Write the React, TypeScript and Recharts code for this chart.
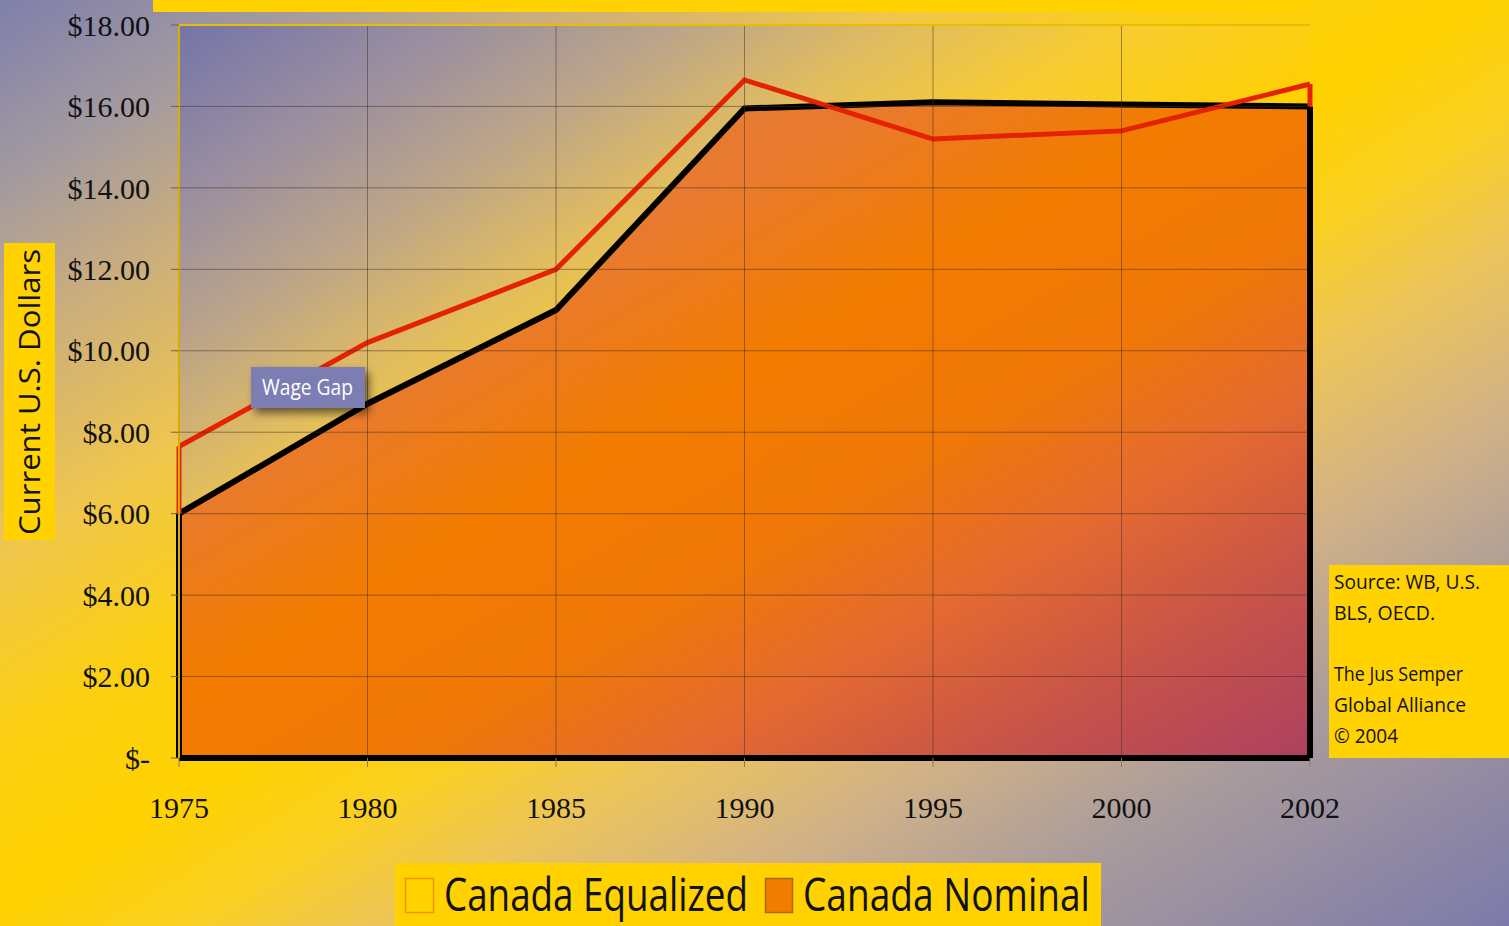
import React from "react"
import { AreaChart, Area, XAxis, YAxis, CartesianGrid, ReferenceLine } from "recharts"

const YEARS = ["1975", "1980", "1985", "1990", "1995", "2000", "2002"]
const CANADA_EQUALIZED = [7.65, 10.2, 12.0, 16.65, 15.2, 15.4, 16.55]
const CANADA_NOMINAL = [6.0, 8.7, 11.0, 15.95, 16.1, 16.05, 16.0]
const Y_TICKS = [0, 2, 4, 6, 8, 10, 12, 14, 16, 18]
const LEGEND_LABELS = ["Canada Equalized", "Canada Nominal"]
const SOURCE_LINES = ["Source: WB, U.S.", "BLS, OECD.", "", "The Jus Semper", "Global Alliance", "© 2004"]
const SOURCE_WIDTHS = [146, 101, 0, 129, 132, 64]

const W = 1509
const H = 926
const GRID = "rgba(70, 45, 35, 0.5)"
const SANS = "'Open Sans', 'Noto Sans', sans-serif"
const LEGEND_SQUEEZE = 0.77

const chartData = YEARS.map((year, i) => ({
  year,
  equalized: CANADA_EQUALIZED[i],
  nominal: CANADA_NOMINAL[i],
}))

const first = YEARS[0]
const last = YEARS[YEARS.length - 1]
const lastIdx = YEARS.length - 1

function formatDollar(v: number) {
  return v === 0 ? "$-" : `$${v.toFixed(2)}`
}

// condensed-looking legend label: squeeze horizontally, then fit to width
function LegendText({ x, y, width, children }: any) {
  return (
    <text
      x={0}
      y={0}
      transform={`translate(${x} ${y}) scale(${LEGEND_SQUEEZE} 1)`}
      fontFamily={SANS}
      fontSize={46}
      fill="#111"
      textLength={width / LEGEND_SQUEEZE}
      lengthAdjust="spacingAndGlyphs"
    >
      {children}
    </text>
  )
}

// everything drawn around the plot: boxes, labels, legend
function Overlay() {
  return (
    <svg
      width={W}
      height={H}
      style={{ position: "absolute", left: 0, top: 0, pointerEvents: "none" }}
    >
      <defs>
        <filter id="boxShadow" x="-20%" y="-30%" width="150%" height="180%">
          <feDropShadow dx="4" dy="5" stdDeviation="4" floodColor="#000" floodOpacity="0.55" />
        </filter>
      </defs>

      {/* cut-off title bar */}
      <rect x={153} y={0} width={1157} height={12} fill="#ffd200" />

      {/* y axis title */}
      <rect x={4} y={243} width={51} height={297} fill="#ffd200" />
      <text
        x={0}
        y={0}
        transform="translate(40 392) rotate(-90)"
        textAnchor="middle"
        fontFamily={SANS}
        fontSize={29}
        fill="#111"
        textLength={286}
        lengthAdjust="spacingAndGlyphs"
      >
        Current U.S. Dollars
      </text>

      {/* wage gap callout */}
      <rect x={251} y={367} width={114} height={41} fill="#7b7db2" filter="url(#boxShadow)" />
      <text
        x={262}
        y={395}
        fontFamily={SANS}
        fontSize={21}
        fill="#fff"
        textLength={91}
        lengthAdjust="spacingAndGlyphs"
      >
        Wage Gap
      </text>

      {/* source box */}
      <rect x={1329} y={565} width={180} height={193} fill="#ffd200" />
      {SOURCE_LINES.map((line, i) =>
        line ? (
          <text
            key={i}
            x={1334}
            y={589 + i * 30.8}
            fontFamily={SANS}
            fontSize={20}
            fill="#111"
            textLength={SOURCE_WIDTHS[i]}
            lengthAdjust="spacingAndGlyphs"
          >
            {line}
          </text>
        ) : null
      )}

      {/* legend */}
      <rect x={395} y={863} width={706} height={63} fill="#ffd200" />
      <rect x={405.5} y={878.5} width={28} height={34} fill="#ffd200" stroke="#f29400" strokeWidth={1.5} />
      <LegendText x={444} y={911} width={304}>
        {LEGEND_LABELS[0]}
      </LegendText>
      <rect x={765.5} y={878.5} width={27} height={34} fill="#f07c00" stroke="#a86a10" strokeWidth={1.5} />
      <LegendText x={803} y={911} width={287}>
        {LEGEND_LABELS[1]}
      </LegendText>
    </svg>
  )
}

export default function App() {
  return (
    <div
      style={{
        position: "absolute",
        left: 0,
        top: 0,
        width: W,
        height: H,
        overflow: "hidden",
        background:
          "linear-gradient(to bottom right, #7f7fab 0%, #a39aa0 10%, #c8ac80 18%, #f0c64c 30%, #fcd012 40%, #ffd200 49%, #fad022 56%, #ecc45a 63%, #d2b286 72%, #aa9c9c 82%, #7c7aaa 100%)",
      }}
    >
      <AreaChart
        width={W}
        height={H}
        data={chartData}
        margin={{ top: 25, right: 199, left: 0, bottom: 0 }}
        style={{ position: "absolute", left: 0, top: 0 }}
      >
        <defs>
          <linearGradient id="plotBg" x1="0" y1="0" x2="1" y2="1">
            <stop offset="0%" stopColor="#7474a8" />
            <stop offset="12%" stopColor="#9a8ea0" />
            <stop offset="22%" stopColor="#bba48a" />
            <stop offset="32%" stopColor="#e0bc60" />
            <stop offset="42%" stopColor="#f8cc30" />
            <stop offset="55%" stopColor="#ffd000" />
            <stop offset="100%" stopColor="#ffd000" />
          </linearGradient>
          <linearGradient id="nominalFill" x1="0" y1="0" x2="1" y2="1">
            <stop offset="0%" stopColor="#e0763c" />
            <stop offset="30%" stopColor="#e87a30" />
            <stop offset="45%" stopColor="#f27c00" />
            <stop offset="60%" stopColor="#ef7808" />
            <stop offset="72%" stopColor="#e46a30" />
            <stop offset="85%" stopColor="#c85448" />
            <stop offset="100%" stopColor="#ad4060" />
          </linearGradient>
        </defs>

        <CartesianGrid fill="url(#plotBg)" horizontal={false} vertical={false} stroke="none" />

        <XAxis
          dataKey="year"
          interval={0}
          height={168}
          axisLine={false}
          tickSize={9}
          tickMargin={30}
          tickLine={{ stroke: "#8a7a50" }}
          tick={{ fontSize: 30, fill: "#111", fontFamily: "'Liberation Serif', serif" }}
        />
        <YAxis
          domain={[0, 18]}
          ticks={Y_TICKS}
          interval={0}
          width={179}
          tickFormatter={formatDollar}
          tickSize={8}
          tickMargin={21}
          axisLine={{ stroke: "#d9ad00", strokeWidth: 2 }}
          tickLine={{ stroke: "#6b6250" }}
          tick={{ fontSize: 30, fill: "#111", fontFamily: "'Liberation Serif', serif" }}
        />

        <Area
          type="linear"
          dataKey="nominal"
          name={LEGEND_LABELS[1]}
          stroke="#000"
          strokeWidth={6}
          fill="url(#nominalFill)"
          fillOpacity={1}
          dot={false}
          activeDot={false}
          isAnimationActive={false}
        />
        <Area
          type="linear"
          dataKey="equalized"
          name={LEGEND_LABELS[0]}
          stroke="#e42200"
          strokeWidth={5}
          fill="none"
          dot={false}
          activeDot={false}
          isAnimationActive={false}
        />

        {/* gridlines on top of the fill */}
        {Y_TICKS.slice(1, -1).map((v) => (
          <ReferenceLine key={`h${v}`} y={v} stroke={GRID} strokeWidth={1} />
        ))}
        {YEARS.slice(1, -1).map((yr) => (
          <ReferenceLine key={`v${yr}`} x={yr} stroke={GRID} strokeWidth={1} />
        ))}
        <ReferenceLine y={18} stroke="#e8bf00" strokeWidth={2} />

        {/* closing edges of the area shapes */}
        <ReferenceLine y={0} stroke="#000" strokeWidth={6} />
        <ReferenceLine
          segment={[
            { x: first, y: 0 },
            { x: first, y: CANADA_NOMINAL[0] },
          ]}
          stroke="#000"
          strokeWidth={6}
        />
        <ReferenceLine
          segment={[
            { x: last, y: 0 },
            { x: last, y: CANADA_NOMINAL[lastIdx] },
          ]}
          stroke="#000"
          strokeWidth={6}
        />
        <ReferenceLine
          segment={[
            { x: first, y: CANADA_NOMINAL[0] },
            { x: first, y: CANADA_EQUALIZED[0] },
          ]}
          stroke="#e42200"
          strokeWidth={5}
        />
        <ReferenceLine
          segment={[
            { x: last, y: CANADA_NOMINAL[lastIdx] },
            { x: last, y: CANADA_EQUALIZED[lastIdx] },
          ]}
          stroke="#e42200"
          strokeWidth={5}
        />
      </AreaChart>
      <Overlay />
    </div>
  )
}
